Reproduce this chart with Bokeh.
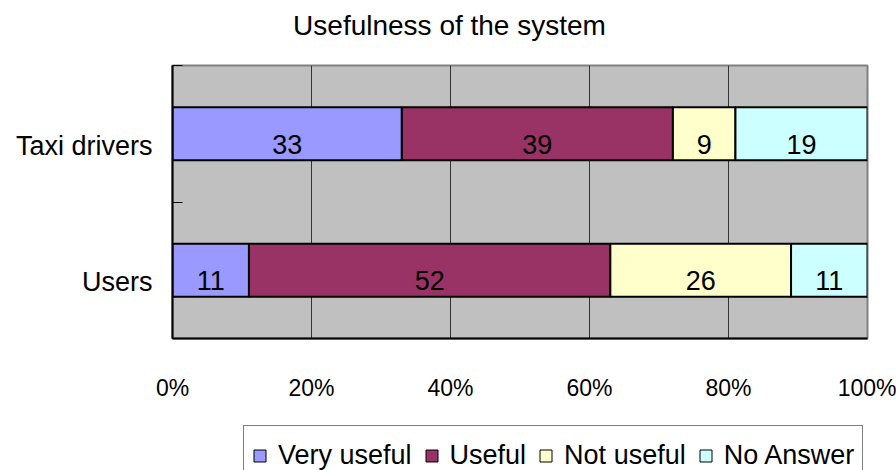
import numpy as np
from bokeh.plotting import figure
from bokeh.layouts import column
from bokeh.models import (ColumnDataSource, FixedTicker, LabelSet, Label,
                          Legend, LegendItem)
from bokeh.core.properties import value
from bokeh.embed import file_html
from bokeh.resources import INLINE

# Survey results (percent of respondents)
categories = ["Users", "Taxi drivers"]
responses = ["Very useful", "Useful", "Not useful", "No Answer"]
very_useful = [11, 33]
useful = [52, 39]
not_useful = [26, 9]
no_answer = [11, 19]
colors = ["#9999FF", "#993366", "#FFFFCC", "#CCFFFF"]
x_ticks = [0, 20, 40, 60, 80, 100]
x_tick_labels = ["0%", "20%", "40%", "60%", "80%", "100%"]
title_text = "Usefulness of the system"

FONT = "Liberation Sans"
LABEL_DROP = 0.088  # category names sit a little below the bar centre

y_pos = list(range(len(categories)))
series = [very_useful, useful, not_useful, no_answer]
data = {"y": y_pos}
for name, vals in zip(responses, series):
    data[name] = vals
source = ColumnDataSource(data)


def strip(height):
    """Borderless, axis-free figure used for the title and legend rows."""
    f = figure(width=896, height=height, x_axis_type=None, y_axis_type=None,
               min_border=0, output_backend="svg", toolbar_location=None)
    f.outline_line_color = None
    f.background_fill_color = "white"
    f.border_fill_color = "white"
    f.grid.grid_line_color = None
    return f


# ---- title row
tf = strip(50)
tf.add_layout(Label(x=277, y=25, x_units="screen", y_units="screen",
                    text=title_text, text_align="center", text_baseline="alphabetic",
                    text_font=FONT, text_font_size="28px", text_color="black"))

# ---- chart
p = figure(width=896, height=370, x_range=(0, 100), y_range=(-0.5, 1.5),
           title=None, output_backend="svg", toolbar_location=None,
           min_border_left=172, min_border_right=29,
           min_border_top=15, min_border_bottom=82)
p.background_fill_color = "#C0C0C0"
p.border_fill_color = "white"
p.outline_line_color = "#808080"
p.outline_line_width = 2

p.hbar_stack(responses, y="y", height=0.39, color=colors, line_color="black",
             line_width=2, source=source)

# value labels centred in each segment
stack = np.array(series, dtype=float)
right = np.cumsum(stack, axis=0)
left = right - stack
lab_x, lab_y, lab_t = [], [], []
for i, vals in enumerate(series):
    for j, v in enumerate(vals):
        lab_x.append((left[i, j] + right[i, j]) / 2)
        lab_y.append(y_pos[j])
        lab_t.append(str(v))
p.add_layout(LabelSet(x="x", y="y", text="t",
                      source=ColumnDataSource(dict(x=lab_x, y=lab_y, t=lab_t)),
                      text_align="center", text_baseline="alphabetic", y_offset=-20,
                      text_font=value(FONT), text_font_size="27px", text_color="black"))

# grid
p.ygrid.grid_line_color = None
p.xgrid.ticker = FixedTicker(ticks=x_ticks[1:-1])
p.xgrid.grid_line_color = "#333333"
p.xgrid.grid_line_width = 1

# x axis
xa = p.xaxis[0]
xa.ticker = FixedTicker(ticks=x_ticks)
xa.major_label_overrides = {t: s for t, s in zip(x_ticks, x_tick_labels)}
xa.major_tick_out = 0
xa.major_tick_in = 0
xa.minor_tick_out = 0
xa.minor_tick_in = 0
xa.axis_line_color = "black"
xa.axis_line_width = 2
xa.major_label_standoff = 36
xa.major_label_text_font = FONT
xa.major_label_text_font_size = "23px"
xa.major_label_text_color = "black"

# y axis: names next to the bars, ticks at category boundaries
ya = p.yaxis[0]
name_ticks = [y - LABEL_DROP for y in y_pos]
ya.ticker = FixedTicker(ticks=name_ticks, minor_ticks=[-0.5, 0.5, 1.5])
ya.major_label_overrides = {t: c for t, c in zip(name_ticks, categories)}
ya.major_tick_out = 0
ya.major_tick_in = 0
ya.minor_tick_in = 10
ya.minor_tick_out = 0
ya.minor_tick_line_color = "black"
ya.minor_tick_line_width = 1
ya.axis_line_color = "black"
ya.axis_line_width = 2
ya.major_label_standoff = 20
ya.major_label_text_font = FONT
ya.major_label_text_font_size = "27px"
ya.major_label_text_color = "black"

# ---- legend row (keys drawn from hidden copies of the bar renderers)
lf = strip(50)
lf.x_range = p.x_range
lf.y_range = p.y_range
keys = lf.hbar_stack(responses, y="y", height=0.39, color=colors, line_color="black",
                     line_width=1, source=source, visible=False)
items = [LegendItem(label=name, renderers=[r]) for name, r in zip(responses, keys)]
lf.add_layout(Legend(items=items, orientation="horizontal", location=(71, -15),
                     border_line_color="black", border_line_width=1,
                     background_fill_color="white", background_fill_alpha=1,
                     inactive_fill_alpha=0,
                     label_text_font=FONT, label_text_font_size="27px",
                     label_text_color="black", label_height=42,
                     glyph_width=15, glyph_height=15, label_standoff=11, spacing=12,
                     padding=8, margin=0), "center")

layout = column(tf, p, lf, spacing=0)
open("out.html", "w").write(file_html(layout, INLINE))
